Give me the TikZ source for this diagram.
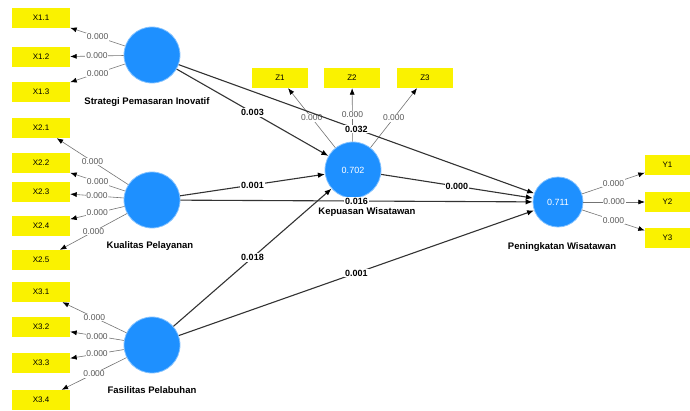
\documentclass[tikz,border=0pt]{standalone}
\usepackage{fontspec}
\setmainfont{Liberation Sans}
\usetikzlibrary{arrows.meta,positioning}
\definecolor{plsblue}{RGB}{30,144,255}
\definecolor{indyellow}{RGB}{250,242,0}

\begin{document}
\begin{tikzpicture}[
    x=1pt, y=-1pt,
    ind/.style={rectangle, fill=indyellow, minimum width=58pt, minimum height=20pt, inner sep=0pt, font=\fontsize{8}{9}\selectfont},
    lv/.style={circle, fill=plsblue, draw=plsblue!55!white, line width=0.8pt, minimum size=56pt, inner sep=0pt, text=white, font=\fontsize{9}{10}\selectfont},
    coefline/.style={draw=black!80, line width=1.1pt, -{Latex[length=7pt,width=5.5pt,black]}},
    loadline/.style={draw=black!55, line width=0.6pt, -{Latex[length=6.5pt,width=5pt,black]}},
    coef/.style={fill=white, inner sep=1pt, font=\bfseries\fontsize{9}{10}\selectfont},
    load/.style={fill=white, inner sep=0.8pt, text=black!65, font=\fontsize{8.5}{9}\selectfont},
    lvname/.style={font=\bfseries\fontsize{9.5}{10}\selectfont}
]
    \useasboundingbox (0,0) rectangle (690,410);

    % Latent variables
    \node[lv] (strategi) at (152,55) {};
    \node[lv] (kualitas) at (152,200) {};
    \node[lv] (fasilitas) at (152,345) {};
    \node[lv] (kepuasan) at (353,170) {0.702};
    \node[lv, minimum size=50pt] (peningkatan) at (558,202) {0.711};

    \node[lvname] (nstrategi) at (147,102) {Strategi Pemasaran Inovatif};
    \node[lvname] (nkualitas) at (150,246) {Kualitas Pelayanan};
    \node[lvname] (nfasilitas) at (152,390) {Fasilitas Pelabuhan};
    \node[lvname] (nkepuasan) at (367,212) {Kepuasan Wisatawan};
    \node[lvname] (npeningkatan) at (562,247) {Peningkatan Wisatawan};

    % Indicators
    \node[ind] (x11) at (41,18) {X1.1};
    \node[ind] (x12) at (41,57) {X1.2};
    \node[ind] (x13) at (41,92) {X1.3};
    \node[ind] (x21) at (41,128) {X2.1};
    \node[ind] (x22) at (41,163) {X2.2};
    \node[ind] (x23) at (41,192) {X2.3};
    \node[ind] (x24) at (41,226) {X2.4};
    \node[ind] (x25) at (41,260) {X2.5};
    \node[ind] (x31) at (41,292) {X3.1};
    \node[ind] (x32) at (41,327) {X3.2};
    \node[ind] (x33) at (41,363) {X3.3};
    \node[ind] (x34) at (41,400) {X3.4};
    \node[ind, minimum width=56pt] (z1) at (280,78) {Z1};
    \node[ind, minimum width=56pt] (z2) at (352,78) {Z2};
    \node[ind, minimum width=56pt] (z3) at (425,78) {Z3};
    \node[ind, minimum width=45pt] (y1) at (667.5,165) {Y1};
    \node[ind, minimum width=45pt] (y2) at (667.5,202) {Y2};
    \node[ind, minimum width=45pt] (y3) at (667.5,238) {Y3};

    % Outer loadings
    \draw[loadline] (strategi) -- node[load] {0.000} (x11);
    \draw[loadline] (strategi) -- node[load] {0.000} (x12);
    \draw[loadline] (strategi) -- node[load] {0.000} (x13);
    \draw[loadline] (kualitas) -- node[load] {0.000} (x21);
    \draw[loadline] (kualitas) -- node[load] {0.000} (x22);
    \draw[loadline] (kualitas) -- node[load] {0.000} (x23);
    \draw[loadline] (kualitas) -- node[load] {0.000} (x24);
    \draw[loadline] (kualitas) -- node[load] {0.000} (x25);
    \draw[loadline] (fasilitas) -- node[load] {0.000} (x31);
    \draw[loadline] (fasilitas) -- node[load] {0.000} (x32);
    \draw[loadline] (fasilitas) -- node[load] {0.000} (x33);
    \draw[loadline] (fasilitas) -- node[load] {0.000} (x34);
    \draw[loadline] (kepuasan) -- node[load] {0.000} (z1);
    \draw[loadline] (kepuasan) -- node[load] {0.000} (z2);
    \draw[loadline] (kepuasan) -- node[load] {0.000} (z3);
    \draw[loadline] (peningkatan) -- node[load] {0.000} (y1);
    \draw[loadline] (peningkatan) -- node[load] {0.000} (y2);
    \draw[loadline] (peningkatan) -- node[load] {0.000} (y3);

    % Inner model
    \draw[coefline] (strategi) -- node[coef] {0.003} (kepuasan);
    \draw[coefline] (strategi) -- node[coef] {0.032} (peningkatan);
    \draw[coefline] (kualitas) -- node[coef] {0.001} (kepuasan);
    \draw[coefline] (kualitas) -- node[coef] {0.016} (peningkatan);
    \draw[coefline] (fasilitas) -- node[coef] {0.018} (kepuasan);
    \draw[coefline] (fasilitas) -- node[coef] {0.001} (peningkatan);
    \draw[coefline] (kepuasan) -- node[coef] {0.000} (peningkatan);
\end{tikzpicture}
\end{document}
